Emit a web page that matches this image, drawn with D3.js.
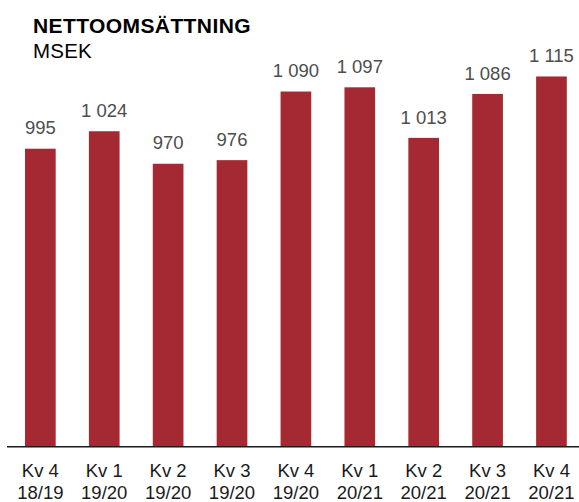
<!DOCTYPE html>
<html>
<head>
<meta charset="utf-8">
<script src="https://cdn.jsdelivr.net/npm/d3@7"></script>
<style>
  html, body { margin: 0; padding: 0; background: #fff; }
  svg { display: block; font-family: "Liberation Sans", Arial, sans-serif; }
</style>
</head>
<body>
<svg id="chart" width="579" height="502"></svg>
<script>
const quarters = ["Kv 4", "Kv 1", "Kv 2", "Kv 3", "Kv 4", "Kv 1", "Kv 2", "Kv 3", "Kv 4"];
const years = ["18/19", "19/20", "19/20", "19/20", "19/20", "20/21", "20/21", "20/21", "20/21"];
const values = [995, 1024, 970, 976, 1090, 1097, 1013, 1086, 1115];
const valueLabels = ["995", "1 024", "970", "976", "1 090", "1 097", "1 013", "1 086", "1 115"];
const title = "NETTOOMSÄTTNING";
const subtitle = "MSEK";

const svg = d3.select("#chart");
const idx = d3.range(values.length);

const x = d3.scaleBand().domain(idx).range([8.4, 583.4]).paddingInner(0.52).paddingOuter(0.26);
const y = d3.scaleLinear().domain([500, 1200]).range([446.7, 25.3]);

svg.append("text").attr("x", 33).attr("y", 33.3)
  .attr("font-size", 21).attr("font-weight", "bold").attr("fill", "#000")
  .attr("letter-spacing", 0.4).text(title);
svg.append("text").attr("x", 33).attr("y", 58.3)
  .attr("font-size", 20.5).attr("fill", "#000").attr("letter-spacing", 0.2).text(subtitle);

svg.append("g").selectAll("rect").data(idx).join("rect")
  .attr("x", i => x(i)).attr("width", x.bandwidth())
  .attr("y", i => y(values[i])).attr("height", i => y(500) - y(values[i]))
  .attr("fill", "#A52933");

svg.append("g").selectAll("text").data(idx).join("text")
  .attr("x", i => x(i) + x.bandwidth() / 2).attr("y", i => y(values[i]) - 14.3)
  .attr("text-anchor", "middle").attr("font-size", 18.5).attr("fill", "#4d4d4d")
  .text(i => valueLabels[i]);

// baseline
svg.append("line").attr("x1", 7).attr("x2", 579).attr("y1", y(500)).attr("y2", y(500))
  .attr("stroke", "#1a1a1a").attr("stroke-width", 1.5);

const lab = svg.append("g").selectAll("text").data(idx).join("text")
  .attr("text-anchor", "middle").attr("font-size", 18.5).attr("fill", "#1a1a1a");
lab.append("tspan").attr("x", i => x(i) + x.bandwidth() / 2).attr("y", 477.3).text(i => quarters[i]);
lab.append("tspan").attr("x", i => x(i) + x.bandwidth() / 2).attr("y", 499.3).text(i => years[i]);
</script>
</body>
</html>
